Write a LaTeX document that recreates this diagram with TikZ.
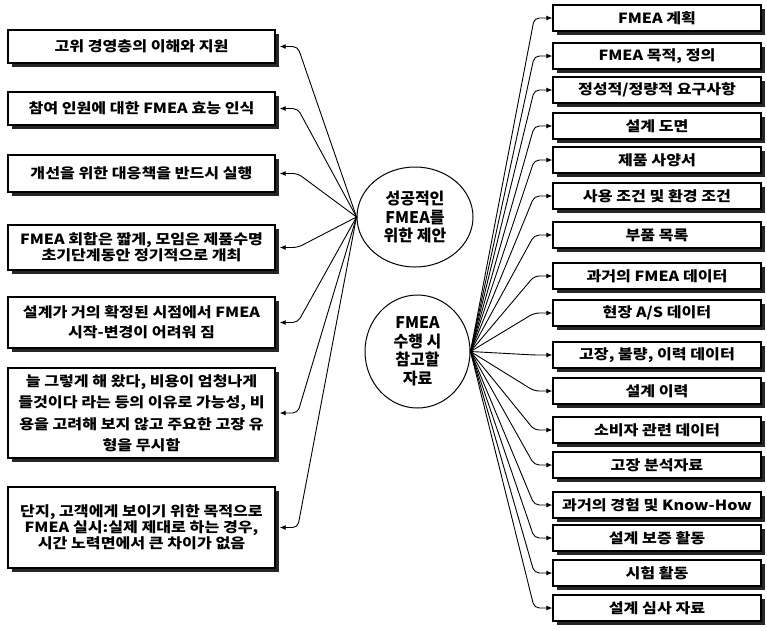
\documentclass[tikz,border=0pt]{standalone}
\usepackage{fontspec}
\setmainfont{Noto Sans CJK KR}
\newfontfamily\widefont{Noto Sans CJK KR}[FakeStretch=1.15]
\usetikzlibrary{shapes.geometric,shadows,arrows.meta}

\tikzset{
  boxshadow/.style={drop shadow={shadow xshift=4pt, shadow yshift=-4pt, fill=black!85, opacity=1}},
  leftbox/.style={draw, line width=1.4pt, fill=white, boxshadow, minimum width=267pt,
    inner sep=2pt, align=center, font=\widefont\bfseries\fontsize{14}{17}\selectfont},
  rightbox/.style={draw, line width=1.4pt, fill=white, boxshadow, minimum width=208pt,
    minimum height=26pt, inner sep=2pt, align=center, font=\widefont\bfseries\fontsize{14}{15}\selectfont},
  topic/.style={draw, ellipse, line width=1pt, inner sep=0pt, align=center,
    font=\bfseries\fontsize{16}{18.5}\selectfont},
  link/.style={line width=0.9pt, rounded corners=5pt, -{Latex[length=6pt,width=5pt]}},
}

\begin{document}
\begin{tikzpicture}[x=1pt, y=-1pt]
\useasboundingbox (0,0) rectangle (767,630);

% Topics
\node[topic, minimum width=116pt, minimum height=100pt] (e1) at (415,217) {성공적인\\FMEA를\\위한 제안};
\node[topic, minimum width=105pt, minimum height=113pt] (e2) at (417.5,351.5) {FMEA\\수행 시\\참고할\\자료};

% Proposals
\node[leftbox, minimum height=33pt] (l1) at (141.5,46.5) {고위 경영층의 이해와 지원};
\node[leftbox, minimum height=33pt] (l2) at (141.5,108.5) {참여 인원에 대한 FMEA 효능 인식};
\node[leftbox, minimum height=37pt] (l3) at (141.5,173.5) {개선을 위한 대응책을 반드시 실행};
\node[leftbox, minimum height=45pt, font=\widefont\bfseries\fontsize{14}{15}\selectfont] (l4) at (141.5,247.5)
  {FMEA 회합은 짧게, 모임은 제품수명\\초기단계동안 정기적으로 개최};
\node[leftbox, minimum height=51pt, font=\widefont\bfseries\fontsize{14}{20}\selectfont] (l5) at (141.5,322.5)
  {설계가 거의 확정된 시점에서 FMEA\\시작-변경이 어려워 짐};
\node[leftbox, minimum height=90pt, font=\widefont\bfseries\fontsize{14}{21.5}\selectfont] (l6) at (141.5,413)
  {늘 그렇게 해 왔다, 비용이 엄청나게\\들것이다 라는 등의 이유로 가능성, 비\\용을 고려해 보지 않고 주요한 고장 유\\형을 무시함};
\node[leftbox, minimum height=81pt, font=\widefont\bfseries\fontsize{14}{16}\selectfont] (l7) at (141.5,527.5)
  {단지, 고객에게 보이기 위한 목적으로\\FMEA 실시:실제 제대로 하는 경우,\\시간 노력면에서 큰 차이가 없음};

% Reference data
\node[rightbox] (r1) at (657,18) {FMEA 계획};
\node[rightbox] (r2) at (657,56) {FMEA 목적, 정의};
\node[rightbox] (r3) at (657,90) {정성적/정량적 요구사항};
\node[rightbox] (r4) at (657,126) {설계 도면};
\node[rightbox] (r5) at (657,160) {제품 사양서};
\node[rightbox] (r6) at (657,196) {사용 조건 및 환경 조건};
\node[rightbox] (r7) at (657,235) {부품 목록};
\node[rightbox] (r8) at (657,276) {과거의 FMEA 데이터};
\node[rightbox] (r9) at (657,313) {현장 A/S 데이터};
\node[rightbox] (r10) at (657,355) {고장, 불량, 이력 데이터};
\node[rightbox] (r11) at (657,391) {설계 이력};
\node[rightbox] (r12) at (657,430) {소비자 관련 데이터};
\node[rightbox] (r13) at (657,465) {고장 분석자료};
\node[rightbox] (r14) at (657,505) {과거의 경험 및 Know-How};
\node[rightbox] (r15) at (657,538) {설계 보증 활동};
\node[rightbox] (r16) at (657,573) {시험 활동};
\node[rightbox] (r17) at (657,608) {설계 심사 자료};

% Links to proposals
\draw[link] (e1.west) -- ([xshift=22pt]l1.east) -- ([xshift=4pt]l1.east);
\draw[link] (e1.west) -- ([xshift=22pt]l2.east) -- ([xshift=4pt]l2.east);
\draw[link] (e1.west) -- ([xshift=22pt]l3.east) -- ([xshift=4pt]l3.east);
\draw[link] (e1.west) -- ([xshift=22pt]l4.east) -- ([xshift=4pt]l4.east);
\draw[link] (e1.west) -- ([xshift=22pt]l5.east) -- ([xshift=4pt]l5.east);
\draw[link] (e1.west) -- ([xshift=22pt]l6.east) -- ([xshift=4pt]l6.east);
\draw[link] (e1.west) -- ([xshift=22pt]l7.east) -- ([xshift=4pt]l7.east);

% Links to reference data
\draw[link] (e2.east) -- ([xshift=-18pt]r1.west) -- (r1.west);
\draw[link] (e2.east) -- ([xshift=-18pt]r2.west) -- (r2.west);
\draw[link] (e2.east) -- ([xshift=-18pt]r3.west) -- (r3.west);
\draw[link] (e2.east) -- ([xshift=-18pt]r4.west) -- (r4.west);
\draw[link] (e2.east) -- ([xshift=-18pt]r5.west) -- (r5.west);
\draw[link] (e2.east) -- ([xshift=-18pt]r6.west) -- (r6.west);
\draw[link] (e2.east) -- ([xshift=-18pt]r7.west) -- (r7.west);
\draw[link] (e2.east) -- ([xshift=-18pt]r8.west) -- (r8.west);
\draw[link] (e2.east) -- ([xshift=-18pt]r9.west) -- (r9.west);
\draw[link] (e2.east) -- ([xshift=-18pt]r10.west) -- (r10.west);
\draw[link] (e2.east) -- ([xshift=-18pt]r11.west) -- (r11.west);
\draw[link] (e2.east) -- ([xshift=-18pt]r12.west) -- (r12.west);
\draw[link] (e2.east) -- ([xshift=-18pt]r13.west) -- (r13.west);
\draw[link] (e2.east) -- ([xshift=-18pt]r14.west) -- (r14.west);
\draw[link] (e2.east) -- ([xshift=-18pt]r15.west) -- (r15.west);
\draw[link] (e2.east) -- ([xshift=-18pt]r16.west) -- (r16.west);
\draw[link] (e2.east) -- ([xshift=-18pt]r17.west) -- (r17.west);
\end{tikzpicture}
\end{document}
